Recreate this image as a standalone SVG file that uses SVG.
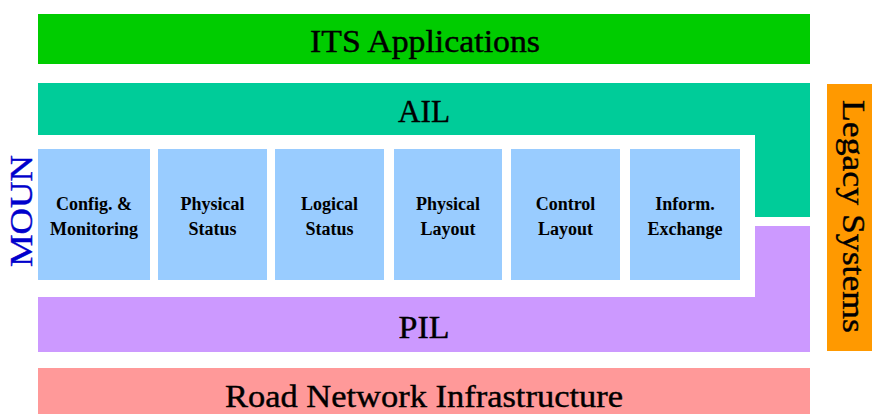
<svg xmlns="http://www.w3.org/2000/svg" width="872" height="414" viewBox="0 0 872 414">
<style>
.lbl{font-family:"Liberation Serif","DejaVu Serif",serif;font-size:31px;fill:#000;stroke:#000;stroke-width:0.4;text-anchor:middle}
.box{fill:#99CCFF}
.bt{font-family:"Liberation Serif","DejaVu Serif",serif;font-size:18px;font-weight:bold;fill:#000;text-anchor:middle}
</style>
<rect width="872" height="414" fill="#fff"/>
<g id="its">
<rect x="38" y="14" width="772" height="50" fill="#00CC00"/>
<text class="lbl" x="425" y="52" textLength="230" lengthAdjust="spacingAndGlyphs">ITS Applications</text>
</g>
<g id="ail">
<path d="M38,83 H810 V217 H755 V135 H38 Z" fill="#00CC99"/>
<text class="lbl" x="424" y="122" textLength="52" lengthAdjust="spacingAndGlyphs">AIL</text>
</g>
<g id="pil">
<path d="M755,226 H810 V352 H38 V297 H755 Z" fill="#CC99FF"/>
<text class="lbl" x="424" y="338" textLength="51" lengthAdjust="spacingAndGlyphs">PIL</text>
</g>
<g id="road">
<rect x="38" y="368" width="772" height="46" fill="#FF9999"/>
<text class="lbl" x="424" y="407" textLength="398" lengthAdjust="spacingAndGlyphs">Road Network Infrastructure</text>
</g>
<g id="legacy">
<rect x="827" y="84" width="45" height="267" fill="#FF9900"/>
<text class="lbl" transform="translate(843,216.5) rotate(90)" x="0" y="0" textLength="233" lengthAdjust="spacingAndGlyphs">Legacy Systems</text>
</g>
<g id="moun">
<text class="lbl" transform="translate(32,211) rotate(-90)" x="0" y="0" style="fill:#0000CC;stroke:#0000CC" textLength="112" lengthAdjust="spacingAndGlyphs">MOUN</text>
</g>
<g id="config">
<rect class="box" x="38" y="149" width="112" height="131"/>
<text class="bt" x="94" y="210">Config. &amp;</text>
<text class="bt" x="94" y="235">Monitoring</text>
</g>
<g id="physical-status">
<rect class="box" x="158" y="149" width="109" height="131"/>
<text class="bt" x="212.5" y="210">Physical</text>
<text class="bt" x="212.5" y="235">Status</text>
</g>
<g id="logical-status">
<rect class="box" x="275" y="149" width="109" height="131"/>
<text class="bt" x="329.5" y="210">Logical</text>
<text class="bt" x="329.5" y="235">Status</text>
</g>
<g id="physical-layout">
<rect class="box" x="394" y="149" width="108" height="131"/>
<text class="bt" x="448" y="210">Physical</text>
<text class="bt" x="448" y="235">Layout</text>
</g>
<g id="control-layout">
<rect class="box" x="511" y="149" width="109" height="131"/>
<text class="bt" x="565.5" y="210">Control</text>
<text class="bt" x="565.5" y="235">Layout</text>
</g>
<g id="inform-exchange">
<rect class="box" x="630" y="149" width="110" height="131"/>
<text class="bt" x="685" y="210">Inform.</text>
<text class="bt" x="685" y="235">Exchange</text>
</g>
<g id="connectors"></g>
</svg>
